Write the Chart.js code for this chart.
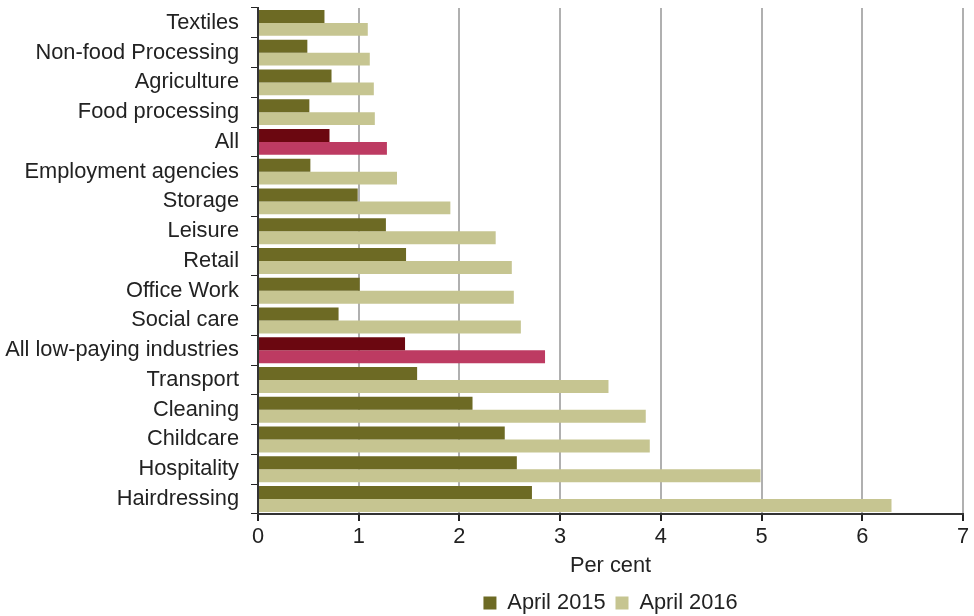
<!DOCTYPE html>
<html>
<head>
<meta charset="utf-8">
<script src="https://cdn.jsdelivr.net/npm/chart.js@4/dist/chart.umd.min.js"></script>
<style>
  html, body { margin: 0; padding: 0; background: #ffffff; overflow: hidden; }
  canvas { display: block; }
</style>
</head>
<body>
<canvas id="chart" width="974" height="616"></canvas>
<script>
// Industry categories, top to bottom
const categories = [
  'Textiles', 'Non-food Processing', 'Agriculture', 'Food processing', 'All',
  'Employment agencies', 'Storage', 'Leisure', 'Retail', 'Office Work',
  'Social care', 'All low-paying industries', 'Transport', 'Cleaning',
  'Childcare', 'Hospitality', 'Hairdressing'
];

// Share of workers, per cent
const april2015 = [0.66, 0.49, 0.73, 0.51, 0.71, 0.52, 0.99, 1.27, 1.47, 1.01, 0.80, 1.46, 1.58, 2.13, 2.45, 2.57, 2.72];
const april2016 = [1.09, 1.11, 1.15, 1.16, 1.28, 1.38, 1.91, 2.36, 2.52, 2.54, 2.61, 2.85, 3.48, 3.85, 3.89, 4.99, 6.29];

// Aggregate rows get a highlighted colour
const highlighted = ['All', 'All low-paying industries'];

const xTicks = [0, 1, 2, 3, 4, 5, 6, 7];

const C2015 = '#6d6a24', C2016 = '#c6c591';
const H2015 = '#6b0710', H2016 = '#bd3b62';

const colours = (base, hi) => categories.map(c => highlighted.includes(c) ? hi : base);

const FONT = { family: '"Liberation Sans", Arial, sans-serif', size: 21.8 };

new Chart(document.getElementById('chart'), {
  type: 'bar',
  data: {
    labels: categories,
    datasets: [
      { label: 'April 2015', data: april2015, backgroundColor: colours(C2015, H2015),
        borderWidth: 0, categoryPercentage: 0.87, barPercentage: 1.0 },
      { label: 'April 2016', data: april2016, backgroundColor: colours(C2016, H2016),
        borderWidth: 0, categoryPercentage: 0.87, barPercentage: 1.0 }
    ]
  },
  options: {
    indexAxis: 'y',
    responsive: false,
    animation: false,
    devicePixelRatio: 1,
    layout: { padding: { top: 8, right: 11, left: 0, bottom: -8 } },
    scales: {
      x: {
        min: xTicks[0], max: xTicks[xTicks.length - 1],
        afterBuildTicks: s => { s.ticks = xTicks.map(v => ({ value: v })); },
        grid: { color: '#b0b0b0', lineWidth: 2, tickColor: '#222', tickLength: 7,
                drawTicks: true },
        border: { color: '#333', width: 2 },
        ticks: { color: '#222', font: FONT, padding: 3 },
        title: { display: true, text: 'Per cent', color: '#222', font: FONT,
                 padding: { top: 0, bottom: 3 } }
      },
      y: {
        // categories sit inside their bands, so no extra room is needed above or below;
        // a fixed width keeps the value axis where the labels end
        afterFit: s => { s.paddingTop = 0; s.paddingBottom = 0; s.width = 258; },
        grid: { offset: true, drawOnChartArea: false, tickColor: '#222', tickLength: 7 },
        border: { color: '#333', width: 2 },
        ticks: { color: '#222', font: FONT, padding: 12, autoSkip: false }
      }
    },
    plugins: {
      legend: {
        position: 'bottom',
        fullSize: false,
        labels: {
          color: '#222', font: FONT, boxWidth: 13, boxHeight: 13, padding: 10,
          generateLabels: chart => chart.data.datasets.map((d, i) => ({
            text: d.label,
            fillStyle: i === 0 ? C2015 : C2016,
            strokeStyle: i === 0 ? C2015 : C2016,
            lineWidth: 0,
            fontColor: '#222',
            datasetIndex: i
          }))
        }
      },
      tooltip: { enabled: false }
    }
  }
});
</script>
</body>
</html>
